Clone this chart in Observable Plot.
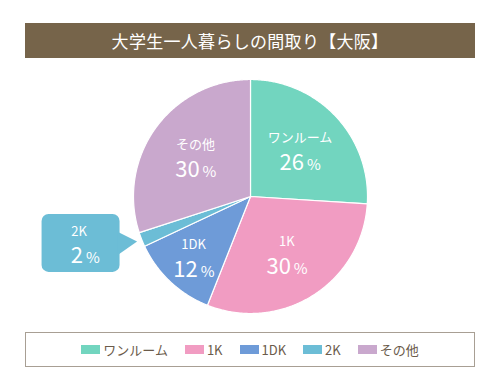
<!DOCTYPE html>
<html>
<head>
<meta charset="utf-8">
<script src="https://cdn.jsdelivr.net/npm/d3@7"></script>
<script src="https://cdn.jsdelivr.net/npm/@observablehq/plot@0.6"></script>
<style>
  html, body { margin: 0; padding: 0; background: #ffffff; }
  body { width: 500px; height: 390px; position: relative; overflow: hidden;
         font-family: 'Noto Sans CJK JP', 'Noto Sans', sans-serif; }
  #title { position: absolute; left: 25px; top: 23px; width: 450px; height: 35px;
           background: #76644a; color: #ffffff; font-size: 17px; font-weight: 400;
           line-height: 35px; text-align: center; letter-spacing: 0.3px; }
  #chart { position: absolute; left: 0; top: 66px; width: 500px; height: 262px; }
  #legend { position: absolute; left: 25px; top: 332px; width: 450px; height: 35px;
            box-sizing: border-box; border: 1.5px solid #a89f94;
            display: flex; justify-content: center; align-items: center; gap: 17px;
            font-size: 13px; color: #6b5b4b; }
  .item { display: flex; align-items: center; }
  .sw { display: inline-block; width: 19px; height: 9px; margin-right: 3px; }
</style>
</head>
<body>
<div id="title"></div>
<div id="chart"></div>
<div id="legend"></div>
<script>
const titleText = "大学生一人暮らしの間取り【大阪】";
const names = ["ワンルーム", "1K", "1DK", "2K", "その他"];
const values = [26, 30, 12, 2, 30];
const colors = ["#72d5bf", "#f19cc2", "#6e9bd8", "#6cbdd6", "#c9a8cd"];
const calloutName = "2K";

// layout (not data)
const W = 500, H = 262, CX = 250, CY = 130, R = 117;
const labelR = {"1DK": 0.71, "その他": 0.58};
const defaultLabelR = 0.58;
const font = "'Noto Sans CJK JP', 'Noto Sans', sans-serif";

document.getElementById("title").textContent = titleText;

const arcs = d3.pie().sort(null).value(d => d)(values);
const pt = (a, r) => ({x: CX + r * Math.sin(a), y: CY - r * Math.cos(a)});

// slice outlines derived from pie angles
const slicePts = [];
arcs.forEach((a, i) => {
  const name = names[i];
  slicePts.push({name, ...pt(0, 0)});
  const n = Math.max(4, Math.ceil((a.endAngle - a.startAngle) / (Math.PI / 360)));
  for (let k = 0; k <= n; k++) {
    const ang = a.startAngle + (a.endAngle - a.startAngle) * k / n;
    slicePts.push({name, ...pt(ang, R)});
  }
});

// labels
const labels = [];
let callout = null;
arcs.forEach((a, i) => {
  const mid = (a.startAngle + a.endAngle) / 2;
  if (names[i] === calloutName) {
    const tip = pt(mid, R + 5);
    callout = {tip, name: names[i], value: values[i]};
    return;
  }
  const p = pt(mid, R * (labelR[names[i]] ?? defaultLabelR));
  labels.push({name: names[i], num: String(values[i]), x: p.x, y: p.y});
});

const cRight = callout.tip.x - 17, cLeft = cRight - 78;
const cMidY = callout.tip.y + 2;
const cTop = cMidY - 29, cBottom = cMidY + 29;
const cTextX = (cLeft + cRight) / 2 - 2;
const calloutRect = [{x1: cLeft, x2: cRight, y1: cTop, y2: cBottom}];
const calloutTri = [
  {x: cRight - 3, y: cMidY - 12},
  {x: callout.tip.x, y: callout.tip.y},
  {x: cRight - 3, y: cMidY + 12}
];
const calloutLabel = [{name: callout.name, num: String(callout.value), x: cTextX, y: cMidY}];
const calloutColor = colors[names.indexOf(calloutName)];

const numText = (data, dyBase) => [
  Plot.text(data, {x: "x", y: "y", text: "num", fill: "white", fontSize: 22,
    textAnchor: "end", dx: 4, dy: dyBase, fontFamily: font}),
  Plot.text(data, {x: "x", y: "y", text: () => "%", fill: "white", fontSize: 15,
    textAnchor: "start", dx: 7, dy: dyBase + 0.32 * (22 - 15), fontFamily: font})
];

const chart = Plot.plot({
  width: W, height: H,
  margin: 0,
  style: {fontFamily: font, background: "transparent"},
  x: {domain: [0, W], range: [0, W], axis: null},
  y: {domain: [0, H], range: [0, H], axis: null},
  color: {domain: names, range: colors},
  marks: [
    Plot.line(slicePts, {x: "x", y: "y", z: "name", fill: "name", stroke: "white",
      strokeWidth: 1.2, curve: "linear-closed"}),
    Plot.text(labels, {x: "x", y: "y", text: "name", fill: "white", fontSize: 13,
      dy: -12, fontFamily: font}),
    ...numText(labels, 13),
    Plot.rect(calloutRect, {x1: "x1", x2: "x2", y1: "y1", y2: "y2", fill: calloutColor, rx: 7}),
    Plot.line(calloutTri, {x: "x", y: "y", fill: calloutColor, stroke: "none", curve: "linear-closed"}),
    Plot.text(calloutLabel, {x: "x", y: "y", text: "name", fill: "white", fontSize: 13,
      dy: -12, fontFamily: font}),
    ...numText(calloutLabel, 13)
  ]
});
document.getElementById("chart").appendChild(chart);

const legend = document.getElementById("legend");
names.forEach((n, i) => {
  const item = document.createElement("div");
  item.className = "item";
  const sw = document.createElement("span");
  sw.className = "sw";
  sw.style.background = colors[i];
  const t = document.createElement("span");
  t.textContent = n;
  item.appendChild(sw);
  item.appendChild(t);
  legend.appendChild(item);
});
</script>
</body>
</html>
